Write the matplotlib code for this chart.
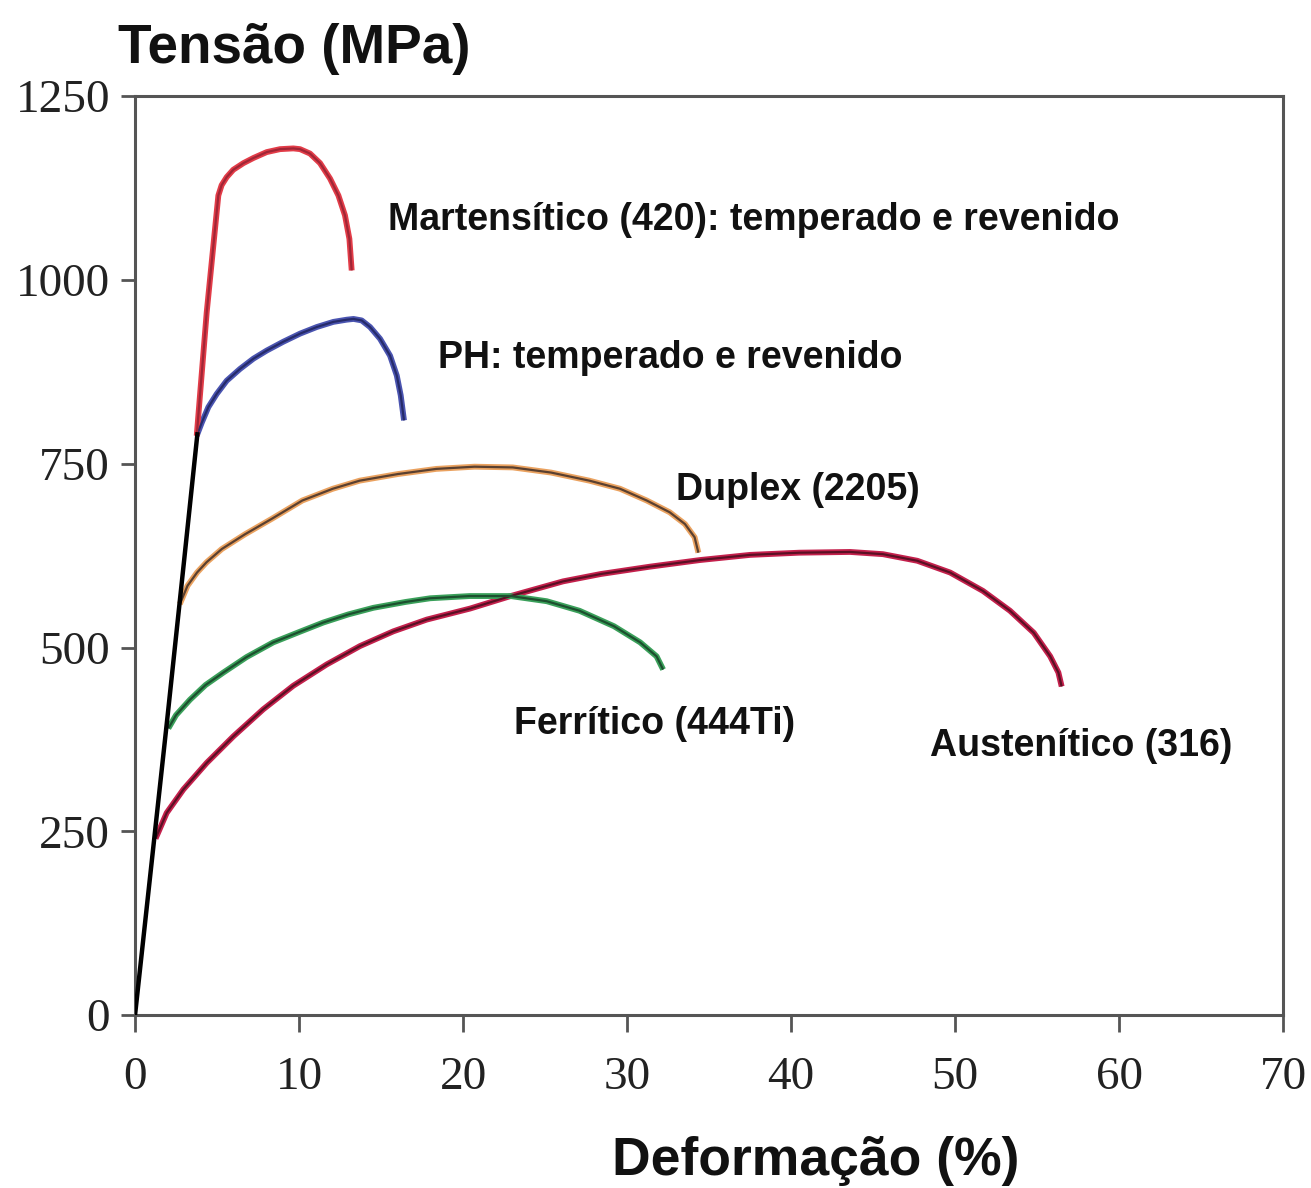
import matplotlib
matplotlib.use("Agg")
import matplotlib.pyplot as plt

# ---- data (strain %, stress MPa) ----
elastic_x = [0.0, 1.0, 2.0, 3.0, 3.8]
elastic_y = [0, 205, 410, 620, 790]

mart_x = [3.76, 4.37, 5.08, 5.28, 5.59, 5.99, 6.61, 7.22, 8.03, 8.84, 9.65, 10.06,
          10.67, 11.28, 11.89, 12.40, 12.80, 13.07, 13.21]
mart_y = [788, 956, 1115, 1129, 1140, 1150, 1159, 1166, 1174, 1178, 1179, 1178,
          1172, 1159, 1138, 1115, 1088, 1056, 1013]

ph_x = [3.76, 4.07, 4.47, 4.98, 5.59, 6.40, 7.22, 8.03, 9.04, 10.06, 11.08, 12.09,
        12.91, 13.32, 13.82, 14.33, 14.94, 15.55, 15.96, 16.20, 16.40]
ph_y = [788, 806, 827, 845, 863, 879, 893, 904, 916, 927, 936, 943,
        946, 947, 945, 936, 920, 897, 870, 843, 809]

duplex_x = [2.73, 3.20, 3.78, 4.36, 5.29, 6.70, 8.33, 10.20, 12.06, 13.70, 16.03, 18.37,
            20.70, 23.03, 25.37, 27.70, 29.57, 31.20, 32.60, 33.53, 34.12, 34.35]
duplex_y = [559, 584, 602, 616, 634, 654, 675, 700, 716, 727, 736, 743,
            746, 745, 738, 727, 716, 700, 684, 668, 650, 629]

ferr_x = [2.03, 2.50, 3.35, 4.30, 5.39, 6.80, 8.43, 10.0, 11.48, 13.0, 14.53, 16.5,
          18.0, 20.4, 22.9, 25.1, 27.1, 29.2, 30.8, 31.8, 32.2]
ferr_y = [390, 408, 429, 449, 466, 487, 507, 521, 534, 545, 554, 562,
          567, 570, 570, 563, 550, 529, 507, 488, 470]

aust_x = [1.25, 1.93, 2.95, 4.37, 5.99, 7.82, 9.65, 11.69, 13.72, 15.75, 17.79, 20.43,
          22.9, 26.1, 28.4, 31.4, 34.45, 37.5, 40.5, 43.6, 45.6, 47.7, 49.7, 51.7,
          53.35, 54.8, 55.8, 56.3, 56.5]
aust_y = [240, 275, 307, 343, 379, 416, 448, 477, 502, 522, 538, 553,
          570, 590, 600, 610, 619, 626, 629, 630, 627, 618, 602, 577,
          550, 520, 488, 466, 447]

labels = ["Martensítico (420): temperado e revenido",
          "PH: temperado e revenido",
          "Duplex (2205)",
          "Ferrítico (444Ti)",
          "Austenítico (316)"]
label_x = [15.43, 18.5, 33.0, 23.1, 48.5]
label_y = [1068, 880, 700, 382, 352]

x_ticks = [0, 10, 20, 30, 40, 50, 60, 70]
y_ticks = [0, 250, 500, 750, 1000, 1250]

# ---- figure ----
fig = plt.figure(figsize=(13.11, 11.88), dpi=100)
ax = fig.add_axes([0.103, 0.1456, 0.8757, 0.7734])

def curve(x, y, outer, inner):
    ax.plot(x, y, color=outer, lw=4.2, solid_capstyle='butt', solid_joinstyle='round', zorder=2)
    ax.plot(x, y, color=inner, lw=1.6, solid_capstyle='butt', solid_joinstyle='round', zorder=3)

curve(aust_x, aust_y, '#c4204c', '#5a1024')
curve(ferr_x, ferr_y, '#3aa05a', '#1c4f2e')
curve(duplex_x, duplex_y, '#eaa260', '#5a4030')
curve(ph_x, ph_y, '#4a54b0', '#262b6a')
curve(mart_x, mart_y, '#e23c48', '#a02636')
ax.plot(elastic_x, elastic_y, color='black', lw=3.2, zorder=4)

for t, x, y in zip(labels, label_x, label_y):
    ax.text(x, y, t, fontsize=27, fontweight='bold', family='Liberation Sans',
            color='#111111', ha='left', va='baseline')

ax.set_xlim(0, 70)
ax.set_ylim(0, 1250)
ax.set_xticks(x_ticks)
ax.set_yticks(y_ticks)
ax.set_xticklabels([str(v) for v in x_ticks], family='Liberation Serif', fontsize=34)
ax.set_yticklabels([str(v) for v in y_ticks], family='Liberation Serif', fontsize=34)
ax.tick_params(axis='x', direction='out', length=12, width=2, color='#555555', pad=18, labelcolor='#222222')
ax.tick_params(axis='y', direction='out', length=10, width=2, color='#555555', pad=8, labelcolor='#222222')
for s in ax.spines.values():
    s.set_color('#555555')
    s.set_linewidth(2.2)

fig.text(118 / 1311, 1 - 63 / 1188, "Tensão (MPa)", fontsize=39.5, fontweight='bold',
         family='Liberation Sans', color='#111111', ha='left', va='baseline')
fig.text(612 / 1311, 1 - 1175 / 1188, "Deformação (%)", fontsize=38.5, fontweight='bold',
         family='Liberation Sans', color='#111111', ha='left', va='baseline')

fig.savefig("out.png", dpi=100)
